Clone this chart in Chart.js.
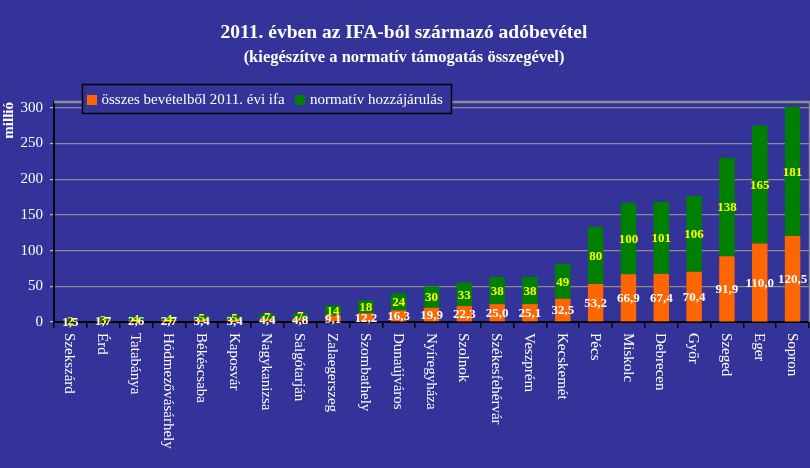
<!DOCTYPE html>
<html><head><meta charset="utf-8">
<script src="https://cdn.jsdelivr.net/npm/chart.js@4/dist/chart.umd.min.js"></script>
<style>html,body{margin:0;padding:0;background:#333399;overflow:hidden}#wrap{width:810px;height:468px;position:relative}</style>
</head><body><div id="wrap"><canvas id="c"></canvas></div>
<script>
const categories = ['Szekszárd','Érd','Tatabánya','Hódmezővásárhely','Békéscsaba','Kaposvár','Nagykanizsa','Salgótarján','Zalaegerszeg','Szombathely','Dunaújváros','Nyíregyháza','Szolnok','Székesfehérvár','Veszprém','Kecskemét','Pécs','Miskolc','Debrecen','Győr','Szeged','Eger','Sopron'];
const ifaValues = [1.5,1.7,2.6,2.7,3.4,3.4,4.4,4.8,9.1,12.2,16.3,19.9,22.3,25.0,25.1,32.5,53.2,66.9,67.4,70.4,91.9,110.0,120.5];
const normativValues = [2,3,4,4,5,5,7,7,14,18,24,30,33,38,38,49,80,100,101,106,138,165,181];
const seriesLabels = ['összes bevételből 2011. évi ifa','normatív hozzájárulás'];
const seriesColors = ['#ff6600','#008000'];
const yTicks = [0,50,100,150,200,250,300];
const titleText = '2011. évben az IFA-ból származó adóbevétel';
const subtitleText = '(kiegészítve a normatív támogatás összegével)';
const yAxisTitle = 'millió';

const SERIF = '"Liberation Serif", "Times New Roman", serif';

const bgPlugin = {
  id:'bg',
  beforeDraw(chart){
    const c=chart.ctx; c.save(); c.fillStyle='#333399'; c.fillRect(0,0,chart.width,chart.height); c.restore();
  }
};

const framePlugin = {
  id:'frame',
  beforeDatasetsDraw(chart){
    const {ctx, chartArea:a} = chart;
    ctx.save();
    ctx.strokeStyle='#8c8c8c';
    ctx.lineWidth=2.5;
    ctx.beginPath(); ctx.moveTo(a.left, a.top); ctx.lineTo(a.right+1, a.top); ctx.stroke();
    ctx.lineWidth=1.5;
    ctx.beginPath(); ctx.moveTo(a.right+0.5, a.top); ctx.lineTo(a.right+0.5, a.bottom); ctx.stroke();
    ctx.restore();
  }
};

const labelPlugin = {
  id:'labels',
  afterDatasetsDraw(chart){
    const ctx=chart.ctx;
    ctx.save();
    ctx.font='bold 13px '+SERIF;
    ctx.textAlign='center'; ctx.textBaseline='middle';
    chart.data.datasets.forEach((ds,di)=>{
      const meta=chart.getDatasetMeta(di);
      meta.data.forEach((bar,i)=>{
        const v=ds.data[i];
        const y=(bar.y+bar.base)/2;
        ctx.fillStyle = di===0 ? '#ffffff' : '#ffff00';
        const txt = di===0 ? v.toFixed(1).replace('.',',') : String(v);
        ctx.fillText(txt, bar.x, y+1);
      });
    });
    ctx.restore();
  },
  afterDraw(chart){
    const ctx=chart.ctx;
    const xs=chart.scales.x;
    ctx.save();
    // category labels, rotated clockwise
    ctx.font='15px '+SERIF;
    ctx.fillStyle='#ffffff';
    ctx.textAlign='left'; ctx.textBaseline='middle';
    chart.data.labels.forEach((c,i)=>{
      const x=xs.getPixelForValue(i);
      ctx.save(); ctx.translate(x-1, chart.chartArea.bottom+11); ctx.rotate(Math.PI/2); ctx.fillText(c,0,0); ctx.restore();
    });
    // titles
    ctx.textAlign='center'; ctx.textBaseline='alphabetic';
    ctx.font='bold 19.5px '+SERIF;
    ctx.fillText(titleText, 404, 38);
    ctx.font='bold 16.5px '+SERIF;
    ctx.fillText(subtitleText, 404, 62);
    // legend
    const lx=82.5, ly=84.5, lw=369, lh=29;
    ctx.fillStyle='#333399'; ctx.fillRect(lx,ly,lw,lh);
    ctx.strokeStyle='#000'; ctx.lineWidth=1.5; ctx.strokeRect(lx,ly,lw,lh);
    ctx.font='15px '+SERIF; ctx.textAlign='left'; ctx.textBaseline='middle';
    const items=[{x:87,tx:101.5},{x:295,tx:310}];
    chart.data.datasets.forEach((ds,di)=>{
      ctx.fillStyle=ds.backgroundColor; ctx.fillRect(items[di].x,95,10,10);
      ctx.fillStyle='#ffffff'; ctx.fillText(ds.label, items[di].tx, 100);
    });
    ctx.restore();
  }
};

new Chart(document.getElementById('c'), {
  type:'bar',
  data:{
    labels: categories,
    datasets:[
      {label:seriesLabels[0], data:ifaValues, backgroundColor:seriesColors[0], barPercentage:0.47, categoryPercentage:1},
      {label:seriesLabels[1], data:normativValues, backgroundColor:seriesColors[1], barPercentage:0.47, categoryPercentage:1}
    ]
  },
  options:{
    responsive:true, maintainAspectRatio:false, animation:false,
    layout:{padding:{top:102,left:0,right:1,bottom:0}},
    plugins:{legend:{display:false}, title:{display:false}, tooltip:{enabled:false}},
    scales:{
      x:{
        stacked:true,
        ticks:{display:false},
        grid:{display:true, drawOnChartArea:false, drawTicks:true, tickLength:6, tickColor:'#000', offset:true, lineWidth:1.5},
        border:{display:true, color:'#000', width:2},
        afterFit(s){ s.height=146; }
      },
      y:{
        stacked:true, min:0, max:308,
        afterBuildTicks(s){ s.ticks = yTicks.map(v=>({value:v})); },
        ticks:{color:'#ffffff', font:{family:SERIF, size:15}, padding:7},
        grid:{color:'#8c8c8c', lineWidth:1.2, tickLength:4, tickColor:'#bdbdbd'},
        border:{display:true, color:'#000', width:2},
        title:{display:true, text:yAxisTitle, align:'end', color:'#ffffff', font:{family:SERIF, size:15, weight:'bold'}, padding:{top:0,bottom:0}},
        afterFit(s){ s.width=54; }
      }
    }
  },
  plugins:[bgPlugin, framePlugin, labelPlugin]
});
</script>
</body></html>
